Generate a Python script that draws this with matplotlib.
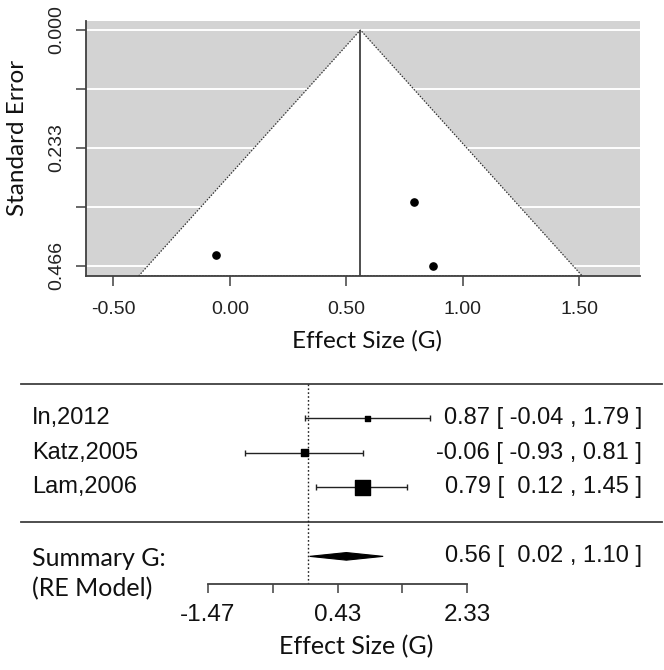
import numpy as np
import matplotlib
matplotlib.use('Agg')
import matplotlib.pyplot as plt
from matplotlib.patches import Polygon
import matplotlib.transforms as mtransforms

# study data (Hedges' G with 95% CI) and standard errors
studies = ['In,2012', 'Katz,2005', 'Lam,2006']
effect = [0.87, -0.06, 0.79]
ci_low = [-0.04, -0.93, 0.12]
ci_high = [1.79, 0.81, 1.45]
std_err = [0.466, 0.444, 0.339]
box_size = [13, 25, 117]        # square marker areas (study weights)

summary_label = 'Summary G:\n(RE Model)'
summary_est = 0.56
summary_low = 0.02
summary_high = 1.10

funnel_xticks = [-0.5, 0.0, 0.5, 1.0, 1.5]
funnel_xticklabels = ['-0.50', '0.00', '0.50', '1.00', '1.50']
funnel_yticklabels = ['0.000', '', '0.233', '', '0.466']
forest_xticklabels = ['-1.47', '', '0.43', '', '2.33']
forest_xrange = (-1.47, 2.33)

ARIAL = 'Liberation Sans'
CALIBRI = 'Lato'

W, H = 664, 670
fig = plt.figure(figsize=(W / 100, H / 100), dpi=100)

# ---------------- funnel plot ----------------
ax = fig.add_axes([86 / W, 1 - 276 / H, 554 / W, 255 / H])
se_max = max(std_err)
ylim_bottom = se_max + 10 / 506.4
ax.set_facecolor('#d3d3d3')
ax.set_xlim(-0.618, 1.76)
ax.set_ylim(ylim_bottom, -9 / 506.4)

yt = np.linspace(0, se_max, 5)
for y in yt:
    ax.axhline(y, color='white', lw=1.4, zorder=1)

tri = Polygon([(summary_est - 1.96 * ylim_bottom, ylim_bottom),
               (summary_est, 0),
               (summary_est + 1.96 * ylim_bottom, ylim_bottom)],
              closed=True, facecolor='white', edgecolor='#333333',
              linestyle=(0, (1.2, 1.2)), lw=0.9, zorder=2)
ax.add_patch(tri)
ax.vlines(summary_est, 0, ylim_bottom, color='#404040', lw=1.3, zorder=3)
ax.plot(effect, std_err, 'o', color='black', markersize=5.2, zorder=4)

for s in ['top', 'right']:
    ax.spines[s].set_visible(False)
for s in ['left', 'bottom']:
    ax.spines[s].set_color('#404040')
    ax.spines[s].set_linewidth(1.3)

ax.set_xticks(funnel_xticks)
ax.set_xticklabels(funnel_xticklabels, fontfamily=ARIAL, fontsize=14, color='#222222')
ax.set_yticks(yt)
ax.set_yticklabels(funnel_yticklabels, fontfamily=ARIAL, fontsize=14, color='#222222',
                   rotation=90, va='center')
ax.tick_params(axis='both', direction='out', length=7, width=1.1, color='#404040')
ax.tick_params(axis='x', pad=11)
ax.tick_params(axis='y', pad=8)

ax.set_xlabel('Effect Size (G)', fontfamily=CALIBRI, fontsize=17.5, color='#111111')
ax.xaxis.set_label_coords(0.507, -0.255)
ax.xaxis.label.set_va('center')
ax.set_ylabel('Standard Error', fontfamily=CALIBRI, fontsize=17.5, color='#111111')
ax.yaxis.set_label_coords(-0.123, 0.541)
ax.yaxis.label.set_va('center')

# ---------------- forest plot ----------------
fx = fig.add_axes([0, 1 - 584 / H, 1, 209 / H])
px_per_unit = 259 / (forest_xrange[1] - forest_xrange[0])
zero_px = 208 + (0 - forest_xrange[0]) * px_per_unit
fx.set_xlim(-zero_px / px_per_unit, (W - zero_px) / px_per_unit)
fx.set_ylim(-1.8, 4.25)
fx.patch.set_alpha(0)

k = len(studies)
rows = np.arange(k, 0, -1)

# separator lines and null-effect reference
for y in [k + 1, 0]:
    fx.axhline(y, xmin=21 / W, xmax=662 / W, color='#404040', lw=1.3)
fx.vlines(0, -1.8, k + 1, color='#222222', lw=1.0, linestyles=(0, (1.2, 1.6)))

est = np.array(effect)
lo = np.array(ci_low)
hi = np.array(ci_high)
fx.errorbar(est, rows, xerr=[est - lo, hi - est], fmt='none', ecolor='#222222',
            elinewidth=1.0, capsize=2.3, capthick=1.0)
fx.scatter(est, rows, s=box_size, marker='s', color='black', zorder=3)

dh = 0.11
diamond = Polygon([(summary_low, -1), (summary_est, -1 + dh),
                   (summary_high, -1), (summary_est, -1 - dh)],
                  closed=True, facecolor='black', edgecolor='black', lw=0.8)
fx.add_patch(diamond)

trans = mtransforms.blended_transform_factory(fx.transAxes, fx.transData)
for name, r, e, l, h in zip(studies, rows, effect, ci_low, ci_high):
    fx.text(32 / W, r, name, transform=trans, ha='left', va='center',
            fontfamily=ARIAL, fontsize=17, color='#111111')
    fx.text(642 / W, r, f'{e:.2f} [ {l:5.2f} , {h:.2f} ]', transform=trans,
            ha='right', va='center', fontfamily=ARIAL, fontsize=17, color='#111111')

fx.text(32 / W, -1.5, summary_label, transform=trans, ha='left', va='center',
        fontfamily=CALIBRI, fontsize=18, color='#111111', linespacing=1.35)
fx.text(642 / W, -1, f'{summary_est:.2f} [ {summary_low:5.2f} , {summary_high:.2f} ]',
        transform=trans, ha='right', va='center', fontfamily=ARIAL, fontsize=17,
        color='#111111')

for s in ['top', 'right', 'left']:
    fx.spines[s].set_visible(False)
fx.spines['bottom'].set_bounds(*forest_xrange)
fx.spines['bottom'].set_color('#404040')
fx.spines['bottom'].set_linewidth(1.3)
fx.set_yticks([])
fx.set_xticks(np.linspace(forest_xrange[0], forest_xrange[1], 5))
fx.set_xticklabels(forest_xticklabels, fontfamily=ARIAL, fontsize=17.5, color='#111111')
fx.tick_params(axis='x', direction='out', length=6.5, width=1.1, color='#404040', pad=8)
fx.set_xlabel('Effect Size (G)', fontfamily=CALIBRI, fontsize=18, color='#111111')
fx.xaxis.set_label_coords(356 / W, -(647 - 584) / 209)
fx.xaxis.label.set_va('center')

fig.savefig('out.png', dpi=100)
